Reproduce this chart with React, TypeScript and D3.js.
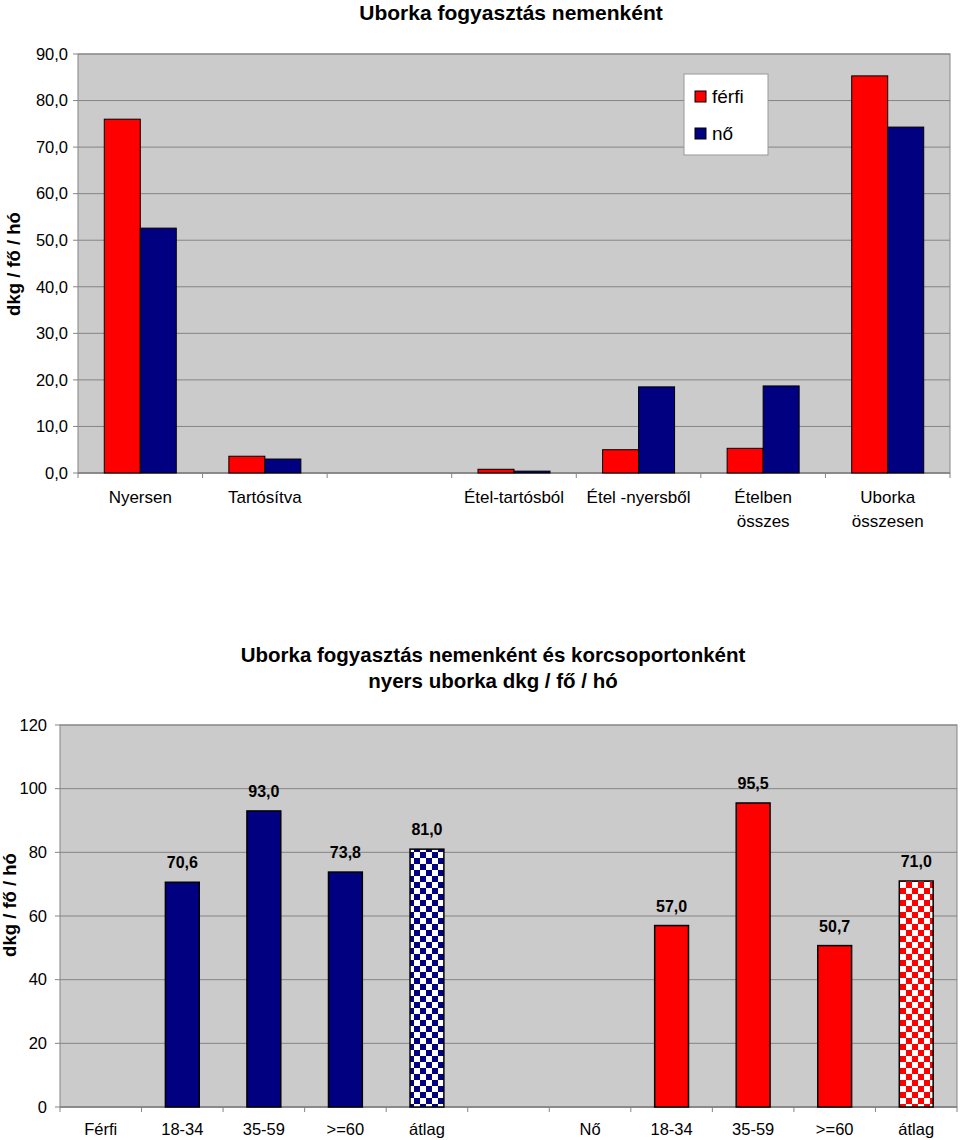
import React from 'react';
import * as d3 from 'd3';

// ---------- data: top chart ----------
const topCategories: string[][] = [
  ['Nyersen'],
  ['Tartósítva'],
  [''],
  ['Étel-tartósból'],
  ['Étel -nyersből'],
  ['Ételben', 'összes'],
  ['Uborka', 'összesen'],
];
const topSeriesNames = ['férfi', 'nő'];
const topFerfi: (number | null)[] = [76.0, 3.6, null, 0.8, 5.0, 5.3, 85.3];
const topNo: (number | null)[] = [52.6, 3.0, null, 0.4, 18.5, 18.7, 74.3];
const topTicks = [0, 10, 20, 30, 40, 50, 60, 70, 80, 90];
const topTitle = 'Uborka fogyasztás nemenként';

// ---------- data: bottom chart ----------
const bottomCategories = ['Férfi', '18-34', '35-59', '>=60', 'átlag', '', 'Nő', '18-34', '35-59', '>=60', 'átlag'];
const bottomValues: (number | null)[] = [null, 70.6, 93.0, 73.8, 81.0, null, null, 57.0, 95.5, 50.7, 71.0];
const bottomKinds = ['', 'navy', 'navy', 'navy', 'navyCheck', '', '', 'red', 'red', 'red', 'redCheck'];
const bottomTicks = [0, 20, 40, 60, 80, 100, 120];
const bottomTitle = ['Uborka fogyasztás nemenként és korcsoportonként', 'nyers uborka dkg / fő / hó'];
const yLabel = 'dkg / fő / hó';

const RED = '#ff0000';
const NAVY = '#000080';
const PLOT_BG = '#cbcbcb';
const GRID = '#858585';
const FONT = 'Arial, "Liberation Sans", sans-serif';

function fmt1(v: number) {
  return v.toFixed(1).replace('.', ',');
}

function TopChart() {
  const L = 78, R = 950, T = 54, B = 473;
  const x = d3.scaleBand<number>().domain(topCategories.map((_, i) => i)).range([L, R]).padding(0);
  const y = d3.scaleLinear().domain([0, 90]).range([B, T]);
  const groupW = x.bandwidth() * 0.578;
  const inner = d3.scaleBand<string>().domain(topSeriesNames).range([0, groupW]).padding(0);
  const series = [
    { name: 'férfi', values: topFerfi, color: RED },
    { name: 'nő', values: topNo, color: NAVY },
  ];
  const ticksX = d3.range(topCategories.length + 1).map((i) => L + i * x.step());
  return (
    <g>
      <text x={511} y={20} textAnchor="middle" fontFamily={FONT} fontWeight="bold" fontSize={21}>{topTitle}</text>
      <rect x={L} y={T} width={R - L} height={B - T} fill={PLOT_BG} stroke={GRID} strokeWidth={1} />
      {topTicks.map((t) => (
        <g key={t}>
          <line x1={L} x2={R} y1={y(t)} y2={y(t)} stroke={GRID} strokeWidth={1} />
          <line x1={L - 5} x2={L} y1={y(t)} y2={y(t)} stroke={GRID} strokeWidth={1} />
          <text x={L - 10} y={y(t)} dy="0.35em" textAnchor="end" fontFamily={FONT} fontSize={16.5}>{fmt1(t)}</text>
        </g>
      ))}
      <line x1={L} x2={R} y1={B} y2={B} stroke={GRID} strokeWidth={1.5} />
      {ticksX.map((tx, i) => (
        <line key={i} x1={tx} x2={tx} y1={B} y2={B + 5} stroke={GRID} strokeWidth={1} />
      ))}
      {series.map((s) =>
        s.values.map((v, i) => {
          if (v == null) return null;
          const cx = (x(i) as number) + x.bandwidth() / 2 - groupW / 2 + (inner(s.name) as number);
          return (
            <rect key={s.name + i} x={cx} y={y(v)} width={inner.bandwidth()} height={B - y(v)} fill={s.color} stroke="#000" strokeWidth={1} />
          );
        })
      )}
      {topCategories.map((lines, i) => (
        <text key={i} x={(x(i) as number) + x.bandwidth() / 2} y={503} textAnchor="middle" fontFamily={FONT} fontSize={17}>
          {lines.map((ln, j) => (
            <tspan key={j} x={(x(i) as number) + x.bandwidth() / 2} dy={j === 0 ? 0 : 24}>{ln}</tspan>
          ))}
        </text>
      ))}
      <text transform={`translate(20,264) rotate(-90)`} textAnchor="middle" fontFamily={FONT} fontWeight="bold" fontSize={18.5}>{yLabel}</text>
      {/* legend */}
      <rect x={684} y={74} width={84} height={81} fill="#fff" stroke="#999" strokeWidth={1} />
      {series.map((s, i) => (
        <g key={s.name}>
          <rect x={695} y={91 + i * 37} width={11} height={11} fill={s.color} stroke="#000" strokeWidth={1} />
          <text x={712} y={96 + i * 37} dy="0.35em" fontFamily={FONT} fontSize={19}>{s.name}</text>
        </g>
      ))}
    </g>
  );
}

function BottomChart() {
  const L = 60, R = 957, T = 725, B = 1107;
  const x = d3.scaleBand<number>().domain(bottomCategories.map((_, i) => i)).range([L, R]).padding(0);
  const y = d3.scaleLinear().domain([0, 120]).range([B, T]);
  const barW = x.bandwidth() * 0.415;
  const ticksX = d3.range(bottomCategories.length + 1).map((i) => L + i * x.step());
  const fillFor = (k: string) =>
    k === 'navy' ? NAVY : k === 'red' ? RED : k === 'navyCheck' ? 'url(#checkNavy)' : 'url(#checkRed)';
  return (
    <g>
      <defs>
        <pattern id="checkNavy" patternUnits="userSpaceOnUse" width={12} height={12} x={0} y={0}>
          <rect width={12} height={12} fill="#fff" />
          <rect width={6} height={6} fill={NAVY} />
          <rect x={6} y={6} width={6} height={6} fill={NAVY} />
        </pattern>
        <pattern id="checkRed" patternUnits="userSpaceOnUse" width={12} height={12} x={0} y={0}>
          <rect width={12} height={12} fill="#fff" />
          <rect width={6} height={6} fill={RED} />
          <rect x={6} y={6} width={6} height={6} fill={RED} />
        </pattern>
      </defs>
      {bottomTitle.map((t, i) => (
        <text key={i} x={493} y={662 + i * 26} textAnchor="middle" fontFamily={FONT} fontWeight="bold" fontSize={20.5}>{t}</text>
      ))}
      <rect x={L} y={T} width={R - L} height={B - T} fill={PLOT_BG} stroke={GRID} strokeWidth={1} />
      {bottomTicks.map((t) => (
        <g key={t}>
          <line x1={L} x2={R} y1={y(t)} y2={y(t)} stroke={GRID} strokeWidth={1} />
          <line x1={L - 5} x2={L} y1={y(t)} y2={y(t)} stroke={GRID} strokeWidth={1} />
          <text x={L - 13} y={y(t)} dy="0.35em" textAnchor="end" fontFamily={FONT} fontSize={16.5}>{t}</text>
        </g>
      ))}
      <line x1={L} x2={R} y1={B} y2={B} stroke={GRID} strokeWidth={1.5} />
      {ticksX.map((tx, i) => (
        <line key={i} x1={tx} x2={tx} y1={B} y2={B + 5} stroke={GRID} strokeWidth={1} />
      ))}
      {bottomValues.map((v, i) => {
        if (v == null) return null;
        const cx = (x(i) as number) + x.bandwidth() / 2;
        return (
          <g key={i}>
            <rect x={cx - barW / 2} y={y(v)} width={barW} height={B - y(v)} fill={fillFor(bottomKinds[i])} stroke="#000" strokeWidth={1.5} />
            <text x={cx} y={y(v) - 14} textAnchor="middle" fontFamily={FONT} fontWeight="bold" fontSize={16}>{fmt1(v)}</text>
          </g>
        );
      })}
      {bottomCategories.map((c, i) => (
        <text key={i} x={(x(i) as number) + x.bandwidth() / 2} y={1135} textAnchor="middle" fontFamily={FONT} fontSize={16.5}>{c}</text>
      ))}
      <text transform={`translate(16,905) rotate(-90)`} textAnchor="middle" fontFamily={FONT} fontWeight="bold" fontSize={18.5}>{yLabel}</text>
    </g>
  );
}

export default function App() {
  return (
    <svg width={960} height={1140} style={{ position: 'absolute', left: 0, top: 0, background: '#fff' }}>
      <rect width={960} height={1140} fill="#fff" />
      <TopChart />
      <BottomChart />
    </svg>
  );
}
